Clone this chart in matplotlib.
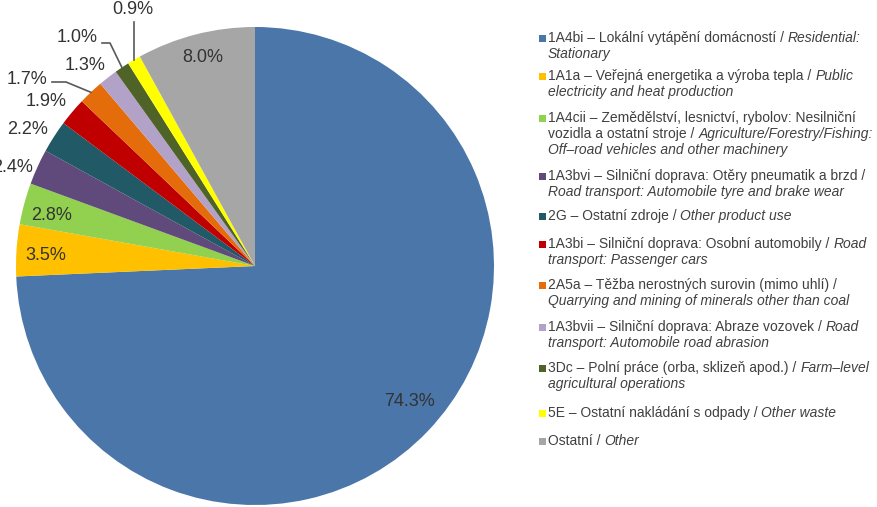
import matplotlib
matplotlib.use("Agg")
import matplotlib.pyplot as plt
import numpy as np

plt.rcParams["font.family"] = ["Liberation Sans", "DejaVu Sans"]

# Sector shares of PM2.5 emissions (%)
codes = ["1A4bi", "1A1a", "1A4cii", "1A3bvi", "2G", "1A3bi",
         "2A5a", "1A3bvii", "3Dc", "5E", "Ostatní"]
shares = [74.3, 3.5, 2.8, 2.4, 2.2, 1.9, 1.7, 1.3, 1.0, 0.9, 8.0]
share_labels = ["74.3%", "3.5%", "2.8%", "2.4%", "2.2%", "1.9%",
                "1.7%", "1.3%", "1.0%", "0.9%", "8.0%"]
colors = ["#4A76A9", "#FFC000", "#92D050", "#604A7B", "#215967", "#C00000",
          "#E46C0A", "#B3A2C7", "#4F6228", "#FFFF00", "#A6A6A6"]

# Legend entries: lines made of (text, italic) pieces
legend_entries = [
    [[("1A4bi – Lokální vytápění domácností / ", False), ("Residential:", True)],
     [("Stationary", True)]],
    [[("1A1a – Veřejná energetika a výroba tepla / ", False), ("Public", True)],
     [("electricity and heat production", True)]],
    [[("1A4cii – Zemědělství, lesnictví, rybolov: Nesilniční", False)],
     [("vozidla a ostatní stroje / ", False), ("Agriculture/Forestry/Fishing:", True)],
     [("Off–road vehicles and other machinery", True)]],
    [[("1A3bvi – Silniční doprava: Otěry pneumatik a brzd /", False)],
     [("Road transport: Automobile tyre and brake wear", True)]],
    [[("2G – Ostatní zdroje / ", False), ("Other product use", True)]],
    [[("1A3bi – Silniční doprava: Osobní automobily / ", False), ("Road", True)],
     [("transport: Passenger cars", True)]],
    [[("2A5a – Těžba nerostných surovin (mimo uhlí) /", False)],
     [("Quarrying and mining of minerals other than coal", True)]],
    [[("1A3bvii – Silniční doprava: Abraze vozovek / ", False), ("Road", True)],
     [("transport: Automobile road abrasion", True)]],
    [[("3Dc – Polní práce (orba, sklizeň apod.) / ", False), ("Farm–level", True)],
     [("agricultural operations", True)]],
    [[("5E – Ostatní nakládání s odpady / ", False), ("Other waste", True)]],
    [[("Ostatní / ", False), ("Other", True)]],
]

W, H = 878, 507
fig = plt.figure(figsize=(W / 100, H / 100), dpi=100)
ax = fig.add_axes([0, 0, 1, 1])

# pixel-like coordinates, y growing downwards
cx, cy, R = 255, 266, 239
wedges, _ = ax.pie(shares, colors=colors, startangle=-90, counterclock=True,
                   radius=R, center=(cx, cy), frame=True,
                   wedgeprops=dict(linewidth=0))
ax.set_xlim(0, W)
ax.set_ylim(H, 0)
ax.set_aspect("auto")
ax.axis("off")

label_color = "#333333"
fs = 13

# label positions (text anchor, alignment)
label_pos = {
    0: ((410, 402), "center"),
    1: ((46, 256), "center"),
    2: ((52, 216), "center"),
    3: ((33, 168), "right"),
    4: ((28, 130), "center"),
    5: ((46, 102), "center"),
    6: ((27, 80), "center"),
    7: ((85, 65), "center"),
    8: ((77, 37), "center"),
    9: ((133, 9), "center"),
    10: ((203, 58), "center"),
}
for i, txt in enumerate(share_labels):
    (x, y), ha = label_pos[i]
    ax.text(x, y, txt, fontsize=fs, color=label_color, ha=ha, va="center")


def wedge_edge_point(w):
    mid = np.deg2rad((w.theta1 + w.theta2) / 2)
    return cx + R * np.cos(mid), cy + R * np.sin(mid)


# leader lines for small slices
leader_color = "#595959"
px, py = wedge_edge_point(wedges[6])
ax.plot([52, 66, px], [82, 82, py], color=leader_color, lw=1.2)
px, py = wedge_edge_point(wedges[8])
ax.plot([102, 110, px], [43, 43, py], color=leader_color, lw=1.2)
px, py = wedge_edge_point(wedges[9])
ax.plot([px, px], [22, py], color=leader_color, lw=1.2)

# legend drawn as text rows with square markers
entry_y = [38, 76, 118, 176, 216, 244, 285, 327, 368, 413, 441]
line_h = 16
leg_fs = 10
leg_color = "#404040"
sq = 7
for k, (entry, y0) in enumerate(zip(legend_entries, entry_y)):
    ax.add_patch(plt.Rectangle((539.5, y0 - sq / 2), sq, sq,
                               facecolor=colors[k], edgecolor="none"))
    for j, line in enumerate(entry):
        y = y0 + j * line_h
        prev = None
        for text, italic in line:
            style = "italic" if italic else "normal"
            if prev is None:
                prev = ax.text(548, y, text, fontsize=leg_fs, color=leg_color,
                               style=style, ha="left", va="center")
            else:
                prev = ax.annotate(text, xy=(1, 0.5), xycoords=prev,
                                   fontsize=leg_fs, color=leg_color,
                                   style=style, ha="left", va="center")

fig.savefig("out.png", dpi=100)
